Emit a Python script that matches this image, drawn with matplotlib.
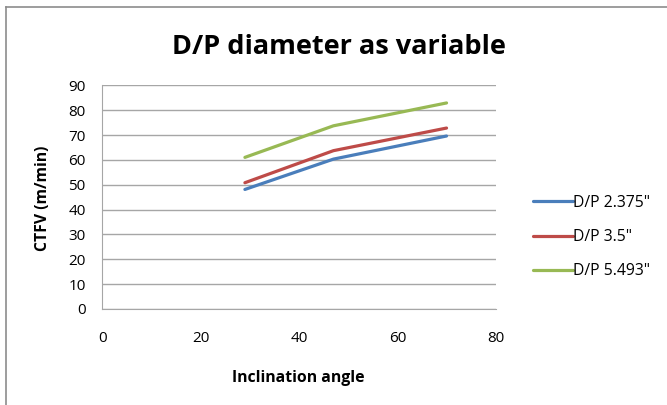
import matplotlib
matplotlib.use("Agg")
import matplotlib.pyplot as plt
from matplotlib.lines import Line2D

plt.rcParams["font.family"] = ["Open Sans", "DejaVu Sans"]

# Inclination angle (deg) and critical transport fluid velocity per drill pipe size
angle = [29, 47, 70]
ctfv_2375 = [48.1, 60.3, 69.6]
ctfv_35 = [50.8, 63.7, 72.8]
ctfv_5493 = [61.0, 73.7, 82.9]
series_labels = ['D/P 2.375"', 'D/P 3.5"', 'D/P 5.493"']
colors = ["#4a7ebb", "#be4b48", "#98b954"]

W, H = 667, 405
fig = plt.figure(figsize=(W / 100, H / 100), dpi=100)
ax = fig.add_axes([102.3 / W, 1 - 309 / H, 393.4 / W, 223.7 / H])

for ys, lab, c in zip((ctfv_2375, ctfv_35, ctfv_5493), series_labels, colors):
    ax.plot(angle, ys, color=c, lw=2.3, label=lab, solid_capstyle="round")

ax.set_xlim(0, 80)
ax.set_ylim(0, 90)
ax.set_xticks(range(0, 81, 20))
ax.set_yticks(range(0, 91, 10))
ax.grid(axis="y", color="#a6a6a6", lw=1)
ax.set_axisbelow(True)
for side in ("top", "right"):
    ax.spines[side].set_visible(False)
for side in ("left", "bottom"):
    ax.spines[side].set_color("#a6a6a6")
ax.tick_params(length=0, labelsize=11, colors="#000000")
ax.tick_params(axis="x", pad=16)
ax.tick_params(axis="y", pad=12)

# axis titles and chart title
fig.text(298 / W, 1 - 382 / H, "Inclination angle", ha="center", va="baseline",
         fontsize=11.3, fontweight="bold")
fig.text(43 / W, 1 - 198 / H, "CTFV (m/min)", ha="center", va="center",
         rotation=90, fontsize=11.3, fontweight="bold")
fig.text(339 / W, 1 - 54 / H, "D/P diameter as variable", ha="center", va="baseline",
         fontsize=19.5, fontweight="bold")

fig.legend(loc="center left", bbox_to_anchor=(527 / W, 1 - 237 / H), frameon=False,
           fontsize=11.3, handlelength=2.5, handletextpad=0.05, labelspacing=1.15,
           borderaxespad=0)

# chart frame
fig.add_artist(Line2D([6 / W, 1], [1 - 7 / H, 1 - 7 / H], color="#8c8c8c", lw=1.2))
fig.add_artist(Line2D([6 / W, 6 / W], [0, 1 - 7 / H], color="#8c8c8c", lw=1.2))

fig.savefig("out.png", dpi=100)
